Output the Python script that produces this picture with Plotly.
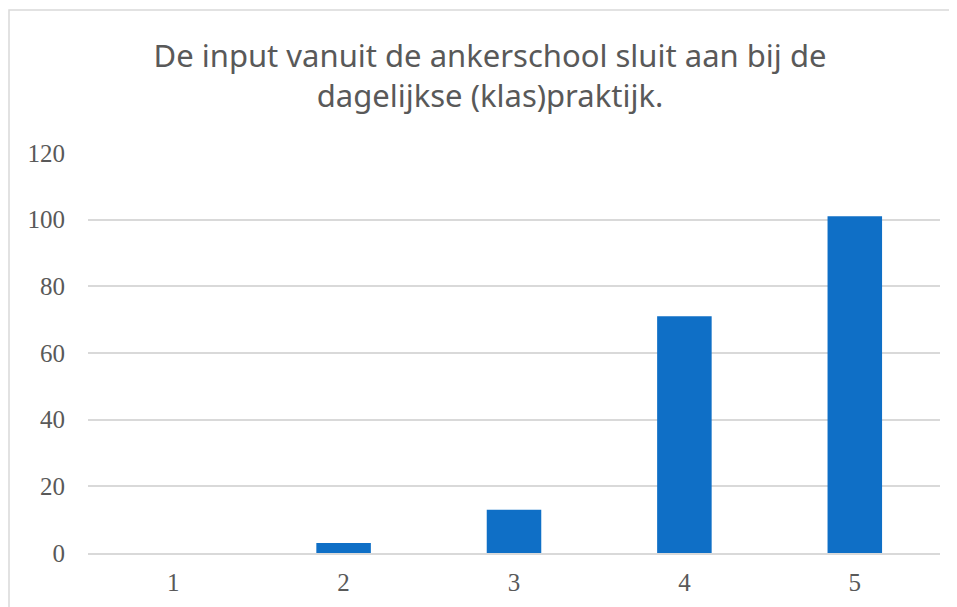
import plotly.graph_objects as go

# scores 1-5 en aantal respondenten
categorieen = ["1", "2", "3", "4", "5"]
aantallen = [0, 3, 13, 71, 101]

titel = "De input vanuit de ankerschool sluit aan bij de<br>dagelijkse (klas)praktijk."

fig = go.Figure()

fig.add_trace(go.Bar(
    x=categorieen,
    y=aantallen,
    marker_color="#0F6FC6",
    marker_line_width=0,
))

fig.update_layout(
    title=dict(
        text=titel,
        x=482 / 957, xanchor="center",
        y=1 - 59 / 607, yanchor="top",
        font=dict(family="Noto Sans", size=31, color="#595959"),
    ),
    width=957,
    height=607,
    margin=dict(l=80, r=25, t=54, b=62),
    plot_bgcolor="white",
    paper_bgcolor="white",
    showlegend=False,
    bargap=0.68,
    font=dict(family="Liberation Serif", size=25, color="#595959"),
)

fig.update_yaxes(
    range=[0, 120],
    dtick=20,
    showgrid=True,
    gridcolor="#D9D9D9",
    gridwidth=1.5,
    zeroline=False,
    showline=False,
    ticks="",
    ticklabelstandoff=22,
    domain=[0, 400 / 491],
)
fig.update_xaxes(
    showline=True,
    linecolor="#D9D9D9",
    linewidth=1.5,
    ticks="",
    showgrid=False,
    ticklabelstandoff=6,
)

# kader van het grafiekgebied
fig.add_shape(
    type="rect", xref="paper", yref="paper",
    x0=-79 / 852, x1=1.2, y0=-0.3, y1=(545 - 2) / 491,
    line=dict(color="#D9D9D9", width=1.5),
    fillcolor="rgba(0,0,0,0)",
    layer="below",
)

fig.write_html("out.html")
